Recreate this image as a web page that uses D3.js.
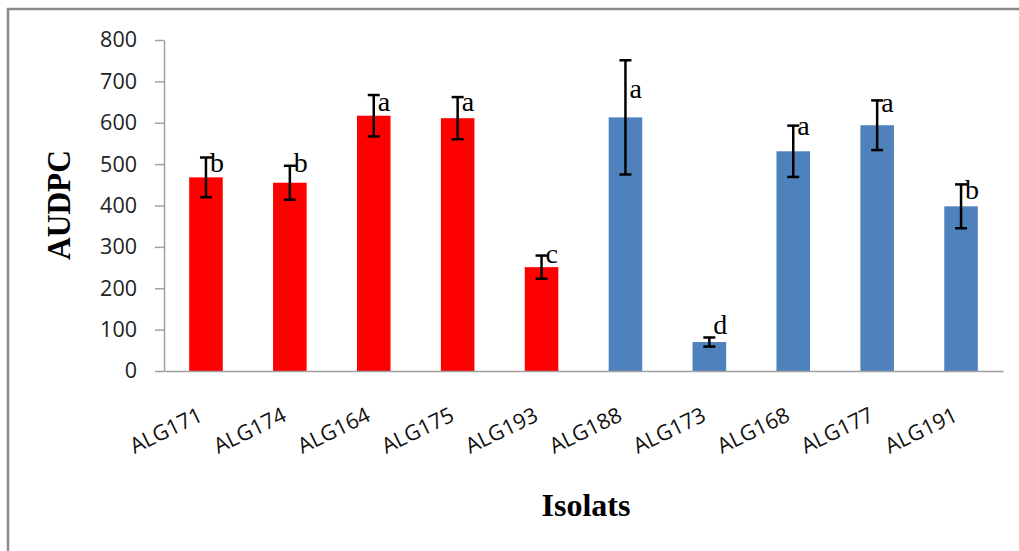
<!DOCTYPE html>
<html>
<head>
<meta charset="utf-8">
<script src="https://cdn.jsdelivr.net/npm/d3@7"></script>
<style>
  html, body { margin: 0; padding: 0; background: #fff; }
  svg { display: block; }
</style>
</head>
<body>
<svg id="chart" width="1019" height="551"></svg>
<script>
// Isolates and their mean AUDPC, with standard error and significance group
const categories = ["ALG171", "ALG174", "ALG164", "ALG175", "ALG193",
                    "ALG188", "ALG173", "ALG168", "ALG177", "ALG191"];
const audpc      = [468, 455, 617, 611, 251, 613, 70, 531, 594, 398];
const stdErr     = [48, 41, 50, 51, 28, 138, 11, 62, 60, 53];
const letters    = ["b", "b", "a", "a", "c", "a", "d", "a", "a", "b"];
// AUDPC level at which each group letter sits
const letterAt   = [481, 482, 629, 629, 260, 661, 89, 570, 627, 416];
// 0 = first isolate set (red), 1 = second isolate set (blue)
const isolateSet = [0, 0, 0, 0, 0, 1, 1, 1, 1, 1];
const setColors  = ["#ff0000", "#4f81bd"];
const yTicks     = [0, 100, 200, 300, 400, 500, 600, 700, 800];

const svg = d3.select("#chart");

// outer frame (top and left edges)
svg.append("path")
  .attr("d", "M8,560 L8,9 L1030,9")
  .attr("fill", "none")
  .attr("stroke", "#8a8a8a")
  .attr("stroke-width", 2.5);

const x = d3.scaleBand()
  .domain(categories)
  .range([164, 1003])
  .paddingInner(0.6)
  .paddingOuter(0.3);

const y = d3.scaleLinear()
  .domain([0, 800])
  .range([371, 40]);

// y axis
const yAxis = svg.append("g")
  .attr("transform", "translate(164,0)")
  .call(d3.axisLeft(y).tickValues(yTicks).tickSize(9).tickSizeOuter(0).tickPadding(18));
yAxis.select(".domain").attr("stroke", "#a0a0a0").attr("stroke-width", 1.5);
yAxis.selectAll(".tick line").attr("stroke", "#a0a0a0").attr("stroke-width", 1.5);
yAxis.selectAll(".tick text")
  .attr("font-family", "'Open Sans', sans-serif")
  .attr("font-size", 21.5)
  .attr("fill", "#222");

// bars
const data = categories.map((c, i) => ({
  c, v: audpc[i], e: stdErr[i], l: letters[i], la: letterAt[i], s: isolateSet[i]
}));

svg.append("g").selectAll("rect")
  .data(data)
  .join("rect")
  .attr("x", d => x(d.c))
  .attr("y", d => y(d.v))
  .attr("width", x.bandwidth())
  .attr("height", d => y(0) - y(d.v))
  .attr("fill", d => setColors[d.s]);

// x axis line
svg.append("g")
  .attr("transform", "translate(0,371)")
  .call(d3.axisBottom(x).tickSize(0).tickFormat(""))
  .select(".domain")
  .attr("stroke", "#a0a0a0")
  .attr("stroke-width", 1.5);

// error bars
const eb = svg.append("g").attr("stroke", "#000").attr("stroke-width", 2.5);
data.forEach(d => {
  const cx = x(d.c) + x.bandwidth() / 2;
  const top = y(d.v + d.e), bot = y(d.v - d.e);
  eb.append("line").attr("x1", cx).attr("x2", cx).attr("y1", top).attr("y2", bot);
  eb.append("line").attr("x1", cx - 6).attr("x2", cx + 6).attr("y1", top).attr("y2", top);
  eb.append("line").attr("x1", cx - 6).attr("x2", cx + 6).attr("y1", bot).attr("y2", bot);
});

// significance letters
svg.append("g").selectAll("text")
  .data(data)
  .join("text")
  .attr("x", d => x(d.c) + x.bandwidth() / 2 + 4)
  .attr("y", d => y(d.la))
  .attr("font-family", "'Liberation Serif', 'Times New Roman', serif")
  .attr("font-size", 28)
  .attr("fill", "#000")
  .text(d => d.l);

// rotated category labels
svg.append("g").selectAll("text")
  .data(categories)
  .join("text")
  .attr("transform", c => `translate(${x(c) + x.bandwidth() / 2 - 2},420) rotate(-26)`)
  .attr("text-anchor", "end")
  .attr("font-family", "'Open Sans', sans-serif")
  .attr("font-size", 21.5)
  .attr("fill", "#111")
  .text(c => c);

// axis titles
svg.append("text")
  .attr("transform", "translate(70,205) rotate(-90)")
  .attr("text-anchor", "middle")
  .attr("font-family", "'Liberation Serif', 'Times New Roman', serif")
  .attr("font-weight", "bold")
  .attr("font-size", 33)
  .attr("textLength", 110)
  .attr("lengthAdjust", "spacingAndGlyphs")
  .text("AUDPC");

svg.append("text")
  .attr("x", 586)
  .attr("y", 516)
  .attr("text-anchor", "middle")
  .attr("font-family", "'Liberation Serif', 'Times New Roman', serif")
  .attr("font-weight", "bold")
  .attr("font-size", 32)
  .text("Isolats");
</script>
</body>
</html>
